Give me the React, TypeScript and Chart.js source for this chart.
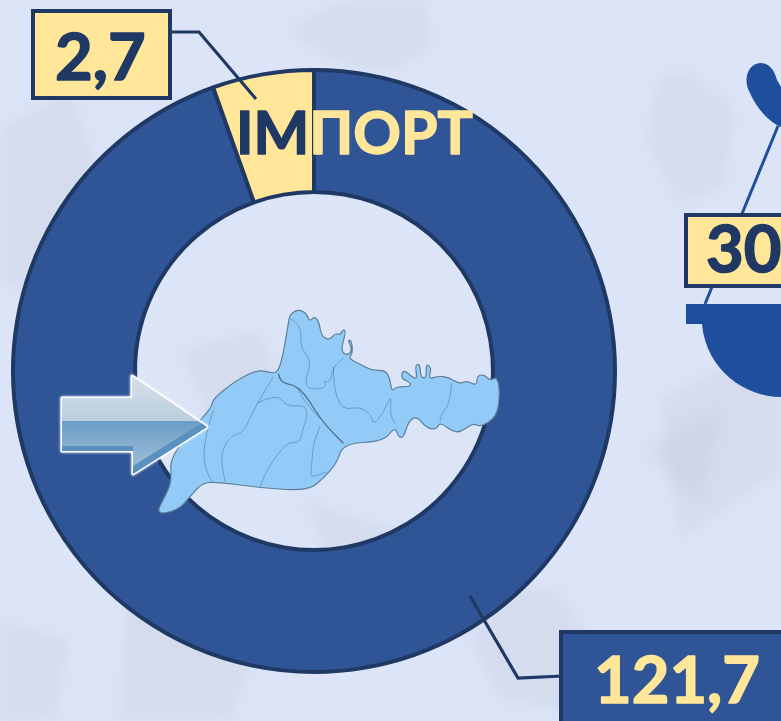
import React, { useEffect, useRef } from "react";
import { Chart, registerables } from "chart.js";

Chart.register(...registerables);

const categories = ["Власне виробництво", "Імпорт"];
const sliceValues = [121.7, 7.0];
const valueLabels = ["121,7", "2,7"];
const sideValueLabel = "30";
const titleDark = "ІМ";
const titleLight = "ПОРТ";

const NAVY = "#1F3864";
const BLUE = "#2F5597";
const YELLOW = "#FFE699";
const ICON = "#1F4E9C";
const FONT = "Lato, 'Open Sans', sans-serif";

type P = number[];
const mapOutline: P[] = [[745,58],[770,70],[778,95],[795,78],[808,100],[815,140],[840,150],[855,130],[870,135],[880,118],[888,125],[872,180],[890,198],[908,180],[893,150],[905,152],[908,190],[895,205],[930,222],[965,242],[1005,240],[1020,265],[1025,305],[1040,290],[1080,290],[1082,278],[1052,265],[1060,238],[1085,260],[1102,268],[1095,225],[1110,222],[1112,262],[1130,265],[1128,220],[1145,235],[1135,268],[1165,258],[1195,262],[1230,282],[1250,272],[1280,288],[1282,255],[1305,255],[1320,272],[1340,260],[1350,300],[1342,380],[1290,412],[1270,398],[1220,435],[1170,395],[1160,418],[1130,415],[1100,378],[1075,395],[1060,445],[1045,440],[1035,410],[1000,455],[880,460],[860,520],[820,565],[775,602],[640,595],[500,575],[455,580],[420,620],[385,660],[315,675],[350,610],[365,570],[360,500],[460,380],[485,350],[490,325],[560,270],[625,238],[665,250],[685,245],[700,190],[715,100],[720,72]];
const mapRidge: P[] = [[685,250],[690,278],[735,285],[770,320],[810,385],[850,430],[880,460]];
const mapDistricts: P[][] = [
  [[720,85],[755,105],[750,170],[785,215],[765,270],[775,298],[830,295],[820,270],[840,280],[850,230],[880,205]],
  [[850,230],[850,290],[875,360],[930,350],[965,375],[970,405],[1000,370],[1025,310],[1020,375],[1035,400]],
  [[1205,280],[1200,340],[1175,370],[1170,395]],
  [[670,260],[620,340],[580,430],[545,435],[510,490],[525,575]],
  [[620,340],[680,310],[710,350],[770,345],[770,390],[760,410],[750,460],[710,455],[650,540],[630,590]],
  [[490,360],[465,440],[460,520],[485,575]],
  [[810,410],[790,450],[785,530],[780,565],[830,545]],
  [[810,385],[770,345],[740,290]],
];
const watermarks: P[][] = [
  [[285,30],[345,0],[425,0],[432,45],[395,70],[345,65]],
  [[660,75],[690,70],[735,110],[725,185],[680,205],[645,140]],
  [[640,720],[600,660],[560,590],[505,590],[470,640],[500,700]],
  [[130,560],[210,590],[260,640],[230,720],[120,720]],
  [[660,400],[781,340],[781,470],[680,540]],
  [[0,130],[70,90],[110,200],[40,300],[0,280]],
  [[640,450],[720,410],[700,500]],
  [[0,620],[70,640],[55,720],[0,720]],
  [[180,350],[260,330],[290,420],[220,440]],
  [[300,500],[430,540],[460,560],[340,570]],
];

function poly(ctx: CanvasRenderingContext2D, pts: P[], close = true) {
  ctx.beginPath();
  pts.forEach((p, i) => (i ? ctx.lineTo(p[0], p[1]) : ctx.moveTo(p[0], p[1])));
  if (close) ctx.closePath();
}
function smooth(ctx: CanvasRenderingContext2D, pts: P[], close = true) {
  ctx.beginPath();
  const n = pts.length;
  if (close) {
    ctx.moveTo((pts[n - 1][0] + pts[0][0]) / 2, (pts[n - 1][1] + pts[0][1]) / 2);
    pts.forEach((p, i) => {
      const q = pts[(i + 1) % n];
      ctx.quadraticCurveTo(p[0], p[1], (p[0] + q[0]) / 2, (p[1] + q[1]) / 2);
    });
    ctx.closePath();
  } else {
    ctx.moveTo(pts[0][0], pts[0][1]);
    for (let i = 1; i < n - 1; i++) {
      const q = pts[i + 1];
      ctx.quadraticCurveTo(pts[i][0], pts[i][1], (pts[i][0] + q[0]) / 2, (pts[i][1] + q[1]) / 2);
    }
    ctx.lineTo(pts[n - 1][0], pts[n - 1][1]);
  }
}
const mapPt = (p: P): P => [50 + p[0] / 3, 290 + p[1] / 3];

function labelBox(ctx: CanvasRenderingContext2D, x: number, y: number, w: number, h: number, fill: string) {
  ctx.fillStyle = fill;
  ctx.strokeStyle = NAVY;
  ctx.lineWidth = 4;
  ctx.fillRect(x, y, w, h);
  ctx.strokeRect(x, y, w, h);
}
function boldText(ctx: CanvasRenderingContext2D, text: string, x: number, y: number, fill: string, extra: number) {
  ctx.fillStyle = fill;
  ctx.strokeStyle = fill;
  ctx.lineWidth = extra;
  ctx.lineJoin = "round";
  ctx.strokeText(text, x, y);
  ctx.fillText(text, x, y);
}

const backgroundPlugin = {
  id: "background",
  beforeDraw(chart: Chart) {
    const ctx = chart.ctx;
    ctx.save();
    ctx.fillStyle = "#DCE5F7";
    ctx.fillRect(0, 0, chart.width, chart.height);
    ctx.filter = "blur(7px)";
    ctx.fillStyle = "rgba(180,185,205,0.2)";
    watermarks.forEach((w) => { poly(ctx, w); ctx.fill(); });
    ctx.filter = "none";
    ctx.restore();
  },
};

const overlayPlugin = {
  id: "overlay",
  afterDraw(chart: Chart) {
    const ctx = chart.ctx;
    ctx.save();

    // scale icon, right edge
    ctx.fillStyle = ICON;
    ctx.strokeStyle = ICON;
    ctx.lineWidth = 3;
    ctx.beginPath(); ctx.moveTo(778, 126); ctx.lineTo(705, 304); ctx.stroke();
    ctx.beginPath();
    ctx.moveTo(781, 127);
    ctx.bezierCurveTo(768, 122, 755, 105, 750, 93);
    ctx.bezierCurveTo(742, 78, 749, 63, 761, 63);
    ctx.bezierCurveTo(770, 63, 775, 72, 777, 80);
    ctx.lineTo(781, 87);
    ctx.closePath();
    ctx.fill();
    ctx.fillRect(686, 304, 95, 20);
    ctx.beginPath();
    ctx.moveTo(702, 324);
    ctx.bezierCurveTo(706, 370, 745, 397, 781, 397);
    ctx.lineTo(781, 324);
    ctx.closePath();
    ctx.fill();
    labelBox(ctx, 686, 215, 110, 71, YELLOW);

    // map
    smooth(ctx, mapOutline.map(mapPt));
    ctx.fillStyle = "#92CBF7";
    ctx.fill();
    ctx.strokeStyle = "#5F7F98";
    ctx.lineWidth = 1.2;
    ctx.stroke();
    ctx.strokeStyle = "rgba(75,120,160,0.55)";
    ctx.lineWidth = 1;
    mapDistricts.forEach((d) => { smooth(ctx, d.map(mapPt), false); ctx.stroke(); });
    ctx.strokeStyle = "#4F6F8C";
    ctx.lineWidth = 1.3;
    smooth(ctx, mapRidge.map(mapPt), false); ctx.stroke();

    // arrow
    const arrow: P[] = [[62,398],[132,398],[132,376],[207,427],[133,474],[133,451],[62,451]];
    ctx.shadowColor = "rgba(255,255,255,0.9)";
    ctx.shadowBlur = 3;
    poly(ctx, arrow);
    ctx.strokeStyle = "#FFFFFF";
    ctx.lineWidth = 3;
    ctx.lineJoin = "round";
    ctx.stroke();
    ctx.shadowBlur = 0;
    ctx.save();
    poly(ctx, arrow);
    ctx.clip();
    const top = ctx.createLinearGradient(0, 376, 0, 421);
    top.addColorStop(0, "#D6E1E9");
    top.addColorStop(1, "#B9CEDF");
    ctx.fillStyle = top;
    ctx.fillRect(60, 374, 150, 47);
    const low = ctx.createLinearGradient(0, 421, 0, 476);
    low.addColorStop(0, "#6C9DC6");
    low.addColorStop(1, "#A9C5DB");
    ctx.fillStyle = low;
    ctx.fillRect(60, 421, 150, 56);
    ctx.fillStyle = "#5C90BF";
    ctx.beginPath(); ctx.moveTo(207, 421); ctx.lineTo(200, 424); ctx.lineTo(133, 466); ctx.lineTo(133, 476); ctx.lineTo(210, 428); ctx.closePath(); ctx.fill();
    ctx.fillRect(60, 446, 73, 6);
    ctx.restore();

    // leader lines
    ctx.strokeStyle = NAVY;
    ctx.lineWidth = 3.2;
    ctx.lineJoin = "miter";
    poly(ctx, [[172,32],[199,32],[256,99]], false); ctx.stroke();
    poly(ctx, [[470,596],[518,678],[563,676]], false); ctx.stroke();

    // boxes
    labelBox(ctx, 33, 11, 137, 87, YELLOW);
    labelBox(ctx, 561, 632, 240, 110, BLUE);

    // texts
    ctx.textBaseline = "alphabetic";
    ctx.textAlign = "left";
    ctx.font = `700 65px ${FONT}`;
    boldText(ctx, valueLabels[1], 55, 80, NAVY, 1.5);
    boldText(ctx, sideValueLabel, 706, 272, NAVY, 1.5);
    boldText(ctx, valueLabels[0], 594, 703, YELLOW, 1.5);

    ctx.font = `700 59px ${FONT}`;
    boldText(ctx, titleDark, 236, 154, NAVY, 1.5);
    const w = ctx.measureText(titleDark).width;
    boldText(ctx, titleLight, 236 + w, 154, YELLOW, 1.5);
    ctx.restore();
  },
};

export default function App() {
  const ref = useRef<HTMLCanvasElement>(null);
  useEffect(() => {
    document.body.style.margin = "0";
    document.body.style.overflow = "hidden";
    const chart = new Chart(ref.current!, {
      type: "doughnut",
      data: {
        labels: categories,
        datasets: [{
          data: sliceValues,
          backgroundColor: [BLUE, YELLOW],
          borderColor: NAVY,
          borderWidth: 4,
        }],
      },
      options: {
        responsive: false,
        animation: false,
        cutout: 179,
        layout: { padding: { left: 11, right: 164, top: 68, bottom: 47 } },
        plugins: { legend: { display: false }, tooltip: { enabled: false } },
      },
      plugins: [backgroundPlugin, overlayPlugin],
    } as any);
    return () => chart.destroy();
  }, []);
  return (
    <canvas
      ref={ref}
      width={781}
      height={721}
      style={{ display: "block", position: "fixed", left: 0, top: 0, width: 781, height: 721 }}
    />
  );
}
